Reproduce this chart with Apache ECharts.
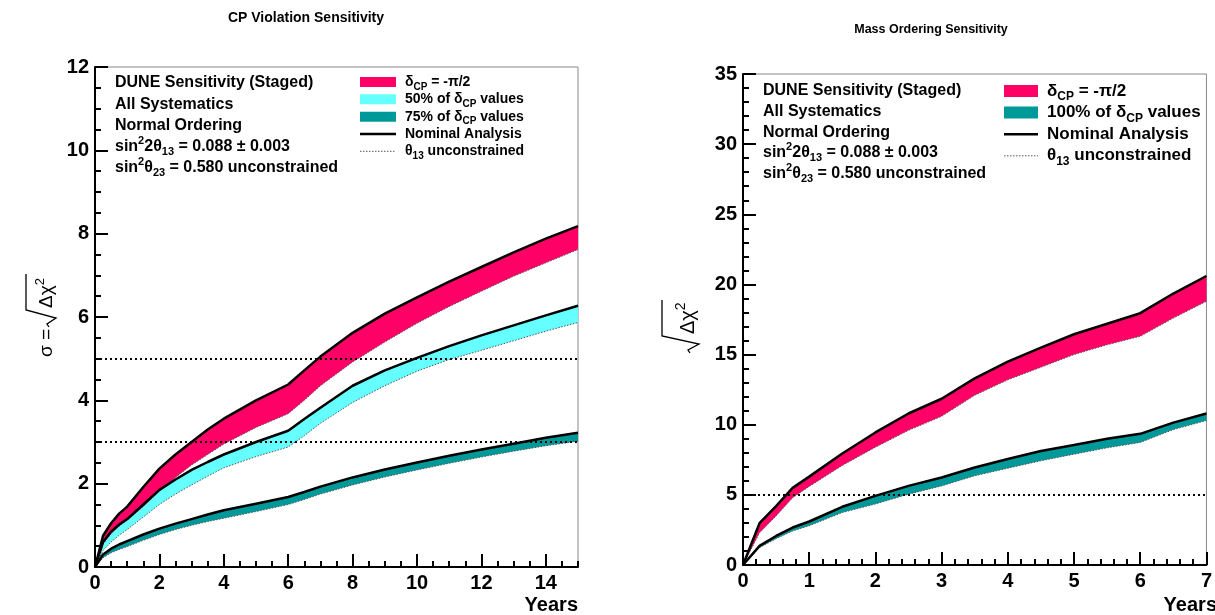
<!DOCTYPE html>
<html>
<head>
<meta charset="utf-8">
<title>DUNE staged sensitivity</title>
<script src="https://cdn.jsdelivr.net/npm/echarts@6/dist/echarts.min.js"></script>
<style>
  html, body { margin: 0; padding: 0; background: #fff; }
  #chart { width: 1215px; height: 615px; }
</style>
</head>
<body>
<div id="chart"></div>
<script>
// ---- CP violation panel (years of staged exposure) ----
const cpvYears = [0, 0.25, 0.5, 0.75, 1, 1.5, 2, 2.5, 3, 3.5, 4, 5, 6, 6.5, 7, 8, 9, 10, 11, 12, 13, 14, 15]
// delta_CP = -pi/2 : nominal (upper) and theta13 unconstrained (lower)
const cpvHalfPiNominal = [0, 0.75, 1.05, 1.28, 1.45, 1.92, 2.36, 2.7, 3.0, 3.3, 3.56, 4.0, 4.38, 4.72, 5.05, 5.62, 6.08, 6.47, 6.85, 7.2, 7.55, 7.88, 8.18]
const cpvHalfPiTheta13 = [0, 0.55, 0.8, 0.98, 1.12, 1.45, 1.82, 2.15, 2.45, 2.7, 2.95, 3.35, 3.68, 4.0, 4.35, 4.92, 5.4, 5.85, 6.25, 6.62, 6.98, 7.3, 7.62]
// 50% of delta_CP values
const cpv50Nominal = [0, 0.6, 0.85, 1.02, 1.15, 1.5, 1.85, 2.1, 2.33, 2.52, 2.7, 3.0, 3.27, 3.55, 3.82, 4.35, 4.72, 5.02, 5.3, 5.56, 5.8, 6.04, 6.27]
const cpv50Theta13 = [0, 0.4, 0.6, 0.76, 0.9, 1.2, 1.5, 1.75, 1.97, 2.18, 2.38, 2.65, 2.88, 3.15, 3.45, 3.95, 4.35, 4.7, 4.98, 5.2, 5.43, 5.66, 5.87]
// 75% of delta_CP values
const cpv75Nominal = [0, 0.3, 0.44, 0.54, 0.62, 0.78, 0.92, 1.04, 1.15, 1.26, 1.36, 1.52, 1.68, 1.8, 1.93, 2.15, 2.34, 2.51, 2.67, 2.82, 2.96, 3.1, 3.22]
const cpv75Theta13 = [0, 0.22, 0.34, 0.42, 0.49, 0.64, 0.78, 0.9, 1.0, 1.09, 1.17, 1.33, 1.5, 1.62, 1.75, 1.97, 2.16, 2.33, 2.49, 2.64, 2.78, 2.91, 3.02]
const cpvSigmaLines = [3, 5]

// ---- Mass ordering panel ----
const moYears = [0, 0.25, 0.5, 0.75, 1, 1.5, 2, 2.5, 3, 3.5, 4, 4.5, 5, 5.5, 6, 6.5, 7]
const moHalfPiNominal = [0, 2.98, 4.2, 5.5, 6.3, 7.95, 9.45, 10.8, 11.85, 13.3, 14.5, 15.5, 16.45, 17.2, 17.95, 19.35, 20.6]
const moHalfPiTheta13 = [0, 2.3, 3.5, 4.8, 5.6, 7.1, 8.4, 9.6, 10.6, 12.1, 13.2, 14.1, 15.0, 15.7, 16.3, 17.6, 18.8]
const mo100Nominal = [0, 1.36, 2.07, 2.67, 3.1, 4.15, 4.93, 5.64, 6.24, 6.95, 7.55, 8.12, 8.55, 9.0, 9.35, 10.15, 10.8]
const mo100Theta13 = [0, 1.24, 1.88, 2.43, 2.8, 3.74, 4.35, 5.05, 5.64, 6.36, 6.9, 7.43, 7.9, 8.35, 8.74, 9.65, 10.3]
const moSigmaLines = [5]

// axis ranges [min, max, major step]
const cpvXRange = [0, 15, 2]
const cpvYRange = [0, 12, 2]
const moXRange = [0, 7, 1]
const moYRange = [0, 35, 5]

const FONT = "'Liberation Sans', Arial, Helvetica, sans-serif"
const PINK = '#ff0066'
const CYAN = '#66ffff'
const TEAL = '#009999'

const pair = (xs, ys) => xs.map((x, i) => [x, ys[i]])

// filled band between lower and upper curves
const bandSeries = (xi, yi, xs, hi, lo, color) => ({
  type: 'custom',
  xAxisIndex: xi,
  yAxisIndex: yi,
  data: [[xs[0], lo[0]]],
  silent: true,
  z: 2,
  renderItem: (params, api) => {
    const pts = xs.map((x, i) => api.coord([x, hi[i]]))
    for (let i = xs.length - 1; i >= 0; i--) pts.push(api.coord([xs[i], lo[i]]))
    return { type: 'polygon', shape: { points: pts }, style: { fill: color, stroke: null } }
  }
})

const edgeLine = (xi, yi, xs, ys, dotted) => ({
  type: 'line',
  xAxisIndex: xi,
  yAxisIndex: yi,
  data: pair(xs, ys),
  symbol: 'none',
  silent: true,
  z: 3,
  lineStyle: dotted
    ? { color: '#555', width: 1, type: [1.5, 1.5] }
    : { color: '#000', width: 2.5 }
})

const sigmaMarks = (values) => ({
  symbol: 'none',
  silent: true,
  label: { show: false },
  lineStyle: { color: '#000', width: 2, type: [2, 3] },
  data: values.map(v => ({ yAxis: v }))
})

const axisBase = (gridIndex, range, minorSplit) => ({
  gridIndex,
  type: 'value',
  min: range[0],
  max: range[1],
  interval: range[2],
  axisLine: { show: true, onZero: false, lineStyle: { color: '#000', width: 2 } },
  axisTick: { show: true, inside: true, length: 13, lineStyle: { color: '#000', width: 2 } },
  minorTick: { show: minorSplit > 0, splitNumber: minorSplit || 5, length: 6, lineStyle: { color: '#000', width: 2 } },
  splitLine: { show: false },
  axisLabel: { color: '#000', fontSize: 20, fontWeight: 'bold', fontFamily: FONT, margin: 6 }
})

// rich styles for sub/superscripts
const richFor = (fs) => ({
  n: { fontSize: fs, fontWeight: 'bold', fontFamily: FONT, lineHeight: Math.round(fs * 1.4), verticalAlign: 'middle' },
  p: { fontSize: Math.round(fs * 0.7), fontWeight: 'bold', fontFamily: FONT, lineHeight: Math.round(fs * 0.7), verticalAlign: 'top' },
  b: { fontSize: Math.round(fs * 0.7), fontWeight: 'bold', fontFamily: FONT, lineHeight: Math.round(fs * 0.7), verticalAlign: 'bottom' }
})

const txt = (x, y, text, fs, extra) => ({
  type: 'text',
  x, y,
  silent: true,
  style: Object.assign({
    text, fill: '#000', fontSize: fs, fontWeight: 'bold', fontFamily: FONT,
    align: 'left', verticalAlign: 'middle', rich: richFor(fs)
  }, extra || {})
})

const infoLines = [
  '{n|DUNE Sensitivity (Staged)}',
  '{n|All Systematics}',
  '{n|Normal Ordering}',
  '{n|sin}{p|2}{n|2θ}{b|13}{n| = 0.088 ± 0.003}',
  '{n|sin}{p|2}{n|θ}{b|23}{n| = 0.580 unconstrained}'
]
const cpvLegendText = ['{n|δ}{b|CP}{n| = -π/2}', '{n|50% of δ}{b|CP}{n| values}', '{n|75% of δ}{b|CP}{n| values}', '{n|Nominal Analysis}', '{n|θ}{b|13}{n| unconstrained}']
const moLegendText = ['{n|δ}{b|CP}{n| = -π/2}', '{n|100% of δ}{b|CP}{n| values}', '{n|Nominal Analysis}', '{n|θ}{b|13}{n| unconstrained}']

const legendBlock = (x0, rows, texts, kinds, boxW, boxH, fs) => {
  const out = []
  kinds.forEach((k, i) => {
    const y = rows[i]
    if (k === 'solid') {
      out.push({ type: 'line', silent: true, shape: { x1: x0, y1: y, x2: x0 + boxW, y2: y }, style: { stroke: '#000', lineWidth: 2.5 } })
    } else if (k === 'dotted') {
      out.push({ type: 'line', silent: true, shape: { x1: x0, y1: y, x2: x0 + boxW, y2: y }, style: { stroke: '#555', lineWidth: 1, lineDash: [1.5, 1.5] } })
    } else {
      out.push({ type: 'rect', silent: true, shape: { x: x0, y: y - boxH / 2, width: boxW, height: boxH }, style: { fill: k } })
    }
    out.push(txt(x0 + boxW + 9, y, texts[i], fs))
  })
  return out
}

// square-root y-axis titles, drawn rotated
const sqrtTitle = (cx, cy, prefix, fs, over) => {
  const children = []
  let x = -over.len / 2
  if (prefix) {
    children.push({ type: 'text', x, y: 0, style: { text: prefix, fill: '#000', fontSize: fs, fontFamily: FONT, align: 'left', verticalAlign: 'middle' } })
    x += over.prefixW
  }
  children.push({
    type: 'polyline',
    shape: { points: [[x, 2], [x + 3, 0], [x + 9, over.drop], [x + 17, over.rise], [x + 17 + over.bar, over.rise]] },
    style: { stroke: '#000', lineWidth: 1.3, fill: null }
  })
  children.push({
    type: 'text', x: x + 19, y: 0,
    style: {
      text: '{a|Δχ}{s|2}', fill: '#000', align: 'left', verticalAlign: 'middle',
      rich: {
        a: { fontSize: fs, fontFamily: FONT, lineHeight: Math.round(fs * 1.4), verticalAlign: 'middle' },
        s: { fontSize: Math.round(fs * 0.7), fontFamily: FONT, lineHeight: Math.round(fs * 0.7), verticalAlign: 'top' }
      }
    }
  })
  return { type: 'group', x: cx, y: cy, rotation: Math.PI / 2, silent: true, children }
}

const chart = echarts.init(document.getElementById('chart'))

chart.setOption({
  animation: false,
  backgroundColor: '#fff',
  grid: [
    { left: 95, top: 67, width: 483, height: 500, show: true, borderColor: '#888', borderWidth: 1, backgroundColor: 'transparent' },
    { left: 743, top: 74, width: 473, height: 491, show: true, borderColor: '#888', borderWidth: 1, backgroundColor: 'transparent' }
  ],
  xAxis: [
    Object.assign(axisBase(0, cpvXRange, 0), { position: 'bottom', axisLabel: Object.assign(axisBase(0, cpvXRange, 0).axisLabel, { showMaxLabel: false }) }),
    // minor ticks every half year on the CPV panel
    Object.assign(axisBase(0, [0, 15, 0.5], 0), {
      position: 'bottom',
      axisLine: { show: false },
      axisTick: { show: true, inside: true, length: 6, lineStyle: { color: '#000', width: 2 } },
      axisLabel: { show: false }
    }),
    Object.assign(axisBase(1, moXRange, 5), { position: 'bottom' })
  ],
  yAxis: [
    axisBase(0, cpvYRange, 4),
    axisBase(1, moYRange, 5)
  ],
  series: [
    bandSeries(0, 0, cpvYears, cpv75Nominal, cpv75Theta13, TEAL),
    bandSeries(0, 0, cpvYears, cpv50Nominal, cpv50Theta13, CYAN),
    bandSeries(0, 0, cpvYears, cpvHalfPiNominal, cpvHalfPiTheta13, PINK),
    edgeLine(0, 0, cpvYears, cpv75Theta13, true),
    edgeLine(0, 0, cpvYears, cpv50Theta13, true),
    edgeLine(0, 0, cpvYears, cpvHalfPiTheta13, true),
    Object.assign(edgeLine(0, 0, cpvYears, cpv75Nominal, false), { markLine: sigmaMarks(cpvSigmaLines) }),
    edgeLine(0, 0, cpvYears, cpv50Nominal, false),
    edgeLine(0, 0, cpvYears, cpvHalfPiNominal, false),

    bandSeries(2, 1, moYears, mo100Nominal, mo100Theta13, TEAL),
    bandSeries(2, 1, moYears, moHalfPiNominal, moHalfPiTheta13, PINK),
    edgeLine(2, 1, moYears, mo100Theta13, true),
    edgeLine(2, 1, moYears, moHalfPiTheta13, true),
    Object.assign(edgeLine(2, 1, moYears, mo100Nominal, false), { markLine: sigmaMarks(moSigmaLines) }),
    edgeLine(2, 1, moYears, moHalfPiNominal, false)
  ],
  graphic: [
    txt(306, 18, 'CP Violation Sensitivity', 14, { align: 'center', rich: null }),
    txt(931, 30, 'Mass Ordering Sensitivity', 12.5, { align: 'center', rich: null }),
    ...infoLines.map((t, i) => txt(115, 83 + i * 21.2, t, 16)),
    ...infoLines.map((t, i) => txt(763, 91 + i * 20.6, t, 16)),
    ...legendBlock(360, [82, 99.3, 116.7, 134, 151.3], cpvLegendText, [PINK, CYAN, TEAL, 'solid', 'dotted'], 36, 10, 14),
    ...legendBlock(1004, [91, 112.6, 134.2, 155.8], moLegendText, [PINK, TEAL, 'solid', 'dotted'], 34, 12, 17),
    txt(578, 605, 'Years', 20, { align: 'right', rich: null }),
    txt(1217, 605, 'Years', 20, { align: 'right', rich: null }),
    sqrtTitle(47, 315, 'σ = ', 19, { len: 84, prefixW: 30, drop: 9, rise: -21, bar: 36 }),
    sqrtTitle(688, 322, '', 20, { len: 62, prefixW: 0, drop: 11, rise: -26, bar: 36 })
  ]
})
</script>
</body>
</html>
